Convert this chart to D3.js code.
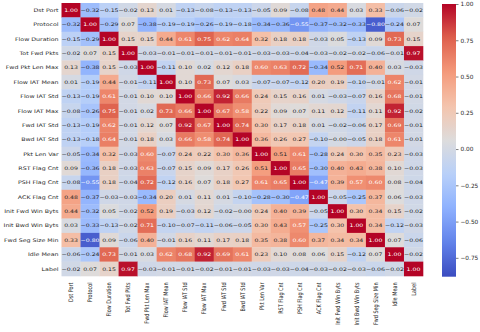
<!DOCTYPE html>
<html>
<head>
<meta charset="utf-8">
<script src="https://cdn.jsdelivr.net/npm/d3@7"></script>
<style>
  body { margin: 0; background: #fff; }
  svg { display: block; font-family: "DejaVu Sans", sans-serif; }
</style>
</head>
<body>
<svg id="chart"></svg>
<script>
const labels = ['Dst Port', 'Protocol', 'Flow Duration', 'Tot Fwd Pkts', 'Fwd Pkt Len Max',
  'Flow IAT Mean', 'Flow IAT Std', 'Flow IAT Max', 'Fwd IAT Std', 'Bwd IAT Std', 'Pkt Len Var',
  'RST Flag Cnt', 'PSH Flag Cnt', 'ACK Flag Cnt', 'Init Fwd Win Byts', 'Init Bwd Win Byts',
  'Fwd Seg Size Min', 'Idle Mean', 'Label'];

// correlation matrix, one row per label
const corr = [
  [1.00, -0.32, -0.15, -0.02, 0.13, 0.01, -0.13, -0.08, -0.13, -0.13, -0.05, 0.09, -0.08, 0.48, 0.44, 0.03, 0.33, -0.06, -0.02],
  [-0.32, 1.00, -0.29, 0.07, -0.38, -0.19, -0.19, -0.26, -0.19, -0.18, -0.34, -0.36, -0.55, -0.37, -0.32, -0.33, -0.80, -0.24, 0.07],
  [-0.15, -0.29, 1.00, 0.15, 0.15, 0.44, 0.61, 0.75, 0.62, 0.64, 0.32, 0.18, 0.18, -0.03, 0.05, -0.13, 0.09, 0.73, 0.15],
  [-0.02, 0.07, 0.15, 1.00, -0.03, -0.01, -0.01, -0.01, -0.01, -0.01, -0.03, -0.03, -0.04, -0.03, -0.02, -0.02, -0.06, -0.01, 0.97],
  [0.13, -0.38, 0.15, -0.03, 1.00, -0.11, 0.10, 0.02, 0.12, 0.18, 0.60, 0.63, 0.72, -0.34, 0.52, 0.71, 0.40, 0.03, -0.03],
  [0.01, -0.19, 0.44, -0.01, -0.11, 1.00, 0.10, 0.73, 0.07, 0.03, -0.07, -0.07, -0.12, 0.20, 0.19, -0.10, -0.01, 0.62, -0.01],
  [-0.13, -0.19, 0.61, -0.01, 0.10, 0.10, 1.00, 0.66, 0.92, 0.66, 0.24, 0.15, 0.16, 0.01, -0.03, -0.07, 0.16, 0.68, -0.01],
  [-0.08, -0.26, 0.75, -0.01, 0.02, 0.73, 0.66, 1.00, 0.67, 0.58, 0.22, 0.09, 0.07, 0.11, 0.12, -0.11, 0.11, 0.92, -0.02],
  [-0.13, -0.19, 0.62, -0.01, 0.12, 0.07, 0.92, 0.67, 1.00, 0.74, 0.30, 0.17, 0.18, 0.01, -0.02, -0.06, 0.17, 0.69, -0.01],
  [-0.13, -0.18, 0.64, -0.01, 0.18, 0.03, 0.66, 0.58, 0.74, 1.00, 0.36, 0.26, 0.27, -0.10, -0.00, -0.05, 0.18, 0.61, -0.01],
  [-0.05, -0.34, 0.32, -0.03, 0.60, -0.07, 0.24, 0.22, 0.30, 0.36, 1.00, 0.51, 0.61, -0.28, 0.24, 0.30, 0.35, 0.23, -0.03],
  [0.09, -0.36, 0.18, -0.03, 0.63, -0.07, 0.15, 0.09, 0.17, 0.26, 0.51, 1.00, 0.65, -0.30, 0.40, 0.43, 0.38, 0.10, -0.03],
  [-0.08, -0.55, 0.18, -0.04, 0.72, -0.12, 0.16, 0.07, 0.18, 0.27, 0.61, 0.65, 1.00, -0.47, 0.39, 0.57, 0.60, 0.08, -0.04],
  [0.48, -0.37, -0.03, -0.03, -0.34, 0.20, 0.01, 0.11, 0.01, -0.10, -0.28, -0.30, -0.47, 1.00, -0.05, -0.25, 0.37, 0.06, -0.03],
  [0.44, -0.32, 0.05, -0.02, 0.52, 0.19, -0.03, 0.12, -0.02, -0.00, 0.24, 0.40, 0.39, -0.05, 1.00, 0.30, 0.34, 0.15, -0.02],
  [0.03, -0.33, -0.13, -0.02, 0.71, -0.10, -0.07, -0.11, -0.06, -0.05, 0.30, 0.43, 0.57, -0.25, 0.30, 1.00, 0.34, -0.12, -0.03],
  [0.33, -0.80, 0.09, -0.06, 0.40, -0.01, 0.16, 0.11, 0.17, 0.18, 0.35, 0.38, 0.60, 0.37, 0.34, 0.34, 1.00, 0.07, -0.06],
  [-0.06, -0.24, 0.73, -0.01, 0.03, 0.62, 0.68, 0.92, 0.69, 0.61, 0.23, 0.10, 0.08, 0.06, 0.15, -0.12, 0.07, 1.00, -0.02],
  [-0.02, 0.07, 0.15, 0.97, -0.03, -0.01, -0.01, -0.02, -0.01, -0.01, -0.03, -0.03, -0.04, -0.03, -0.02, -0.03, -0.06, -0.02, 1.00]
];

const cbarTicks = [1.00, 0.75, 0.50, 0.25, 0.00, -0.25, -0.50, -0.75];
const vmin = -0.88, vmax = 1.0;

const width = 480, height = 332;
const sy = 0.78; // the picture is squashed vertically
const svg = d3.select('#chart').attr('width', width).attr('height', height);

// coolwarm
const cwColors = ['#3b4cc0', '#6282ea', '#8db0fe', '#b8d0f9', '#dddcdc', '#f4c4ad', '#f49a7b', '#de604d', '#b40426'];
const color = d3.scaleLinear()
  .domain(d3.range(cwColors.length).map(i => vmin + (vmax - vmin) * i / (cwColors.length - 1)))
  .range(cwColors)
  .interpolate(d3.interpolateRgb)
  .clamp(true);

const lum = c => {
  const rgb = d3.rgb(c);
  const f = v => { v /= 255; return v <= 0.03928 ? v / 12.92 : Math.pow((v + 0.055) / 1.055, 2.4); };
  return 0.2126 * f(rgb.r) + 0.7152 * f(rgb.g) + 0.0722 * f(rgb.b);
};

const fmt = v => (v < 0 || Object.is(v, -0) ? '\u2212' : '') + d3.format('.2f')(Math.abs(v));

const x = d3.scaleBand().domain(labels).range([61.5, 423]);
const y = d3.scaleBand().domain(labels).range([3, 276]);

const cells = [];
corr.forEach((row, i) => row.forEach((v, j) => cells.push({ r: labels[i], c: labels[j], v })));

const g = svg.append('g');
g.selectAll('rect')
  .data(cells)
  .join('rect')
  .attr('x', d => x(d.c))
  .attr('y', d => y(d.r))
  .attr('width', x.bandwidth() + 0.3)
  .attr('height', y.bandwidth() + 0.3)
  .attr('fill', d => color(d.v));

g.selectAll('text')
  .data(cells)
  .join('text')
  .attr('transform', d => `translate(${x(d.c) + x.bandwidth() / 2},${y(d.r) + y.bandwidth() / 2}) scale(1,${sy})`)
  .attr('dy', '0.36em')
  .attr('text-anchor', 'middle')
  .attr('font-size', 6.2)
  .attr('fill', d => lum(color(d.v)) > 0.408 ? '#262626' : '#fff')
  .text(d => fmt(d.v));

// y labels
svg.append('g')
  .selectAll('text')
  .data(labels)
  .join('text')
  .attr('transform', d => `translate(58.5,${y(d) + y.bandwidth() / 2}) scale(1,${sy})`)
  .attr('dy', '0.36em')
  .attr('text-anchor', 'end')
  .attr('font-size', 6.3)
  .attr('fill', '#262626')
  .text(d => d);

// x labels
svg.append('g')
  .selectAll('text')
  .data(labels)
  .join('text')
  .attr('transform', d => `translate(${x(d) + x.bandwidth() / 2},282.5) rotate(-90) scale(${sy},1)`)
  .attr('dy', '0.36em')
  .attr('text-anchor', 'end')
  .attr('font-size', 6.3)
  .attr('fill', '#262626')
  .text(d => d);

// colorbar
const cb = d3.scaleLinear().domain([vmin, vmax]).range([276.7, 4]);
const grad = svg.append('defs').append('linearGradient')
  .attr('id', 'cw').attr('x1', 0).attr('y1', 1).attr('x2', 0).attr('y2', 0);
grad.selectAll('stop')
  .data(d3.range(0, 1.0001, 0.02))
  .join('stop')
  .attr('offset', d => d)
  .attr('stop-color', d => color(vmin + (vmax - vmin) * d));

svg.append('rect')
  .attr('x', 442)
  .attr('y', cb(vmax))
  .attr('width', 14)
  .attr('height', cb(vmin) - cb(vmax))
  .attr('fill', 'url(#cw)');

svg.append('g')
  .attr('transform', 'translate(456,0)')
  .call(d3.axisRight(cb).tickValues(cbarTicks).tickSize(2.5).tickPadding(2).tickFormat(fmt))
  .call(g => g.select('.domain').remove())
  .call(g => g.selectAll('line').attr('stroke', '#262626').attr('stroke-width', 0.6))
  .call(g => g.selectAll('text')
    .attr('font-size', 5.8)
    .attr('fill', '#262626')
    .attr('font-family', '"DejaVu Sans", sans-serif'));
</script>
</body>
</html>
